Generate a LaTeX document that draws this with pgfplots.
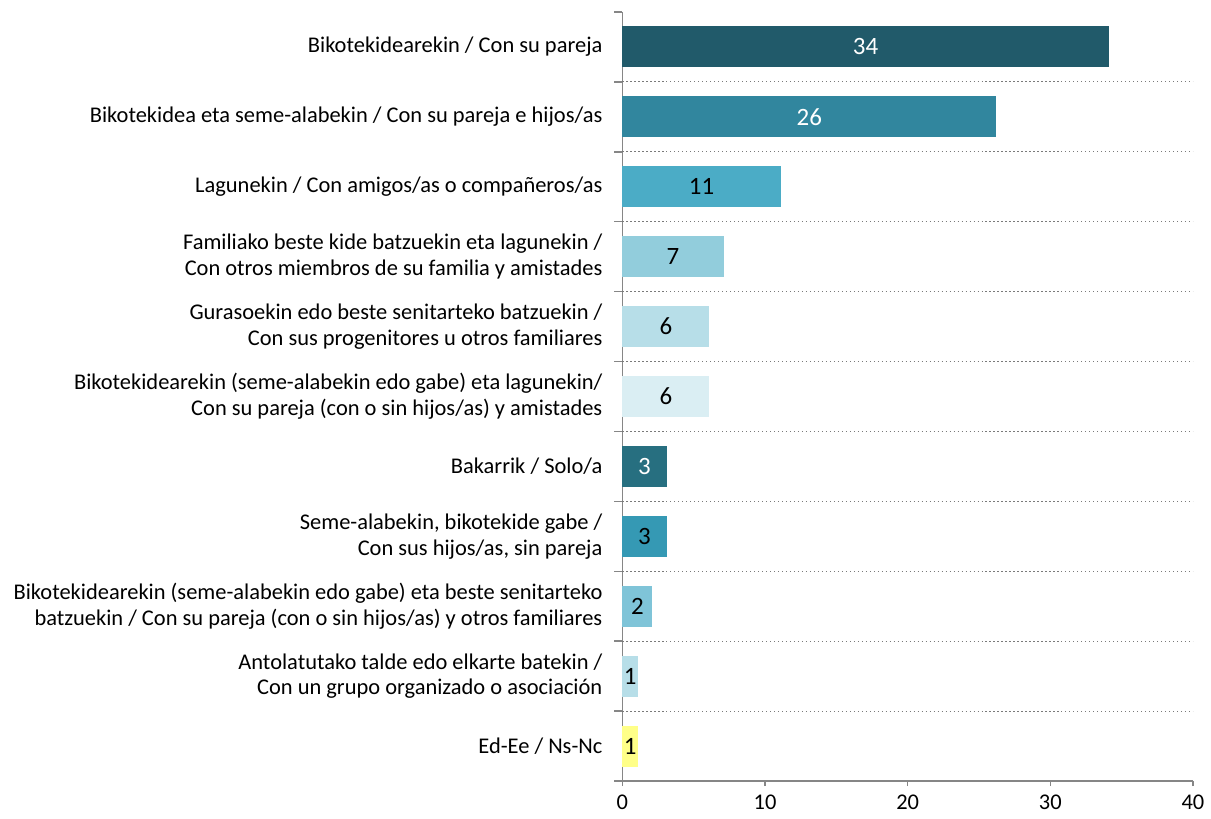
\documentclass[border=0pt]{standalone}
\usepackage{pgfplots}
\pgfplotsset{compat=1.18}
\usepackage{pgfplotstable}
\usepackage{fontspec}
\setmainfont{Carlito}
\definecolor{c1}{HTML}{215A6A}
\definecolor{c2}{HTML}{31869E}
\definecolor{c3}{HTML}{4BACC6}
\definecolor{c4}{HTML}{92CDDC}
\definecolor{c5}{HTML}{B7DEE8}
\definecolor{c6}{HTML}{DAEEF3}
\definecolor{c7}{HTML}{276F80}
\definecolor{c8}{HTML}{3599B4}
\definecolor{c9}{HTML}{7FC4D8}
\definecolor{c10}{HTML}{B7DEE8}
\definecolor{c11}{HTML}{FFFF88}
\definecolor{axisgray}{HTML}{868686}
\definecolor{gridgray}{HTML}{7A7A7A}
\pgfplotstableread{
y v lbl
0 34.1 34
1 26.2 26
6 3.1 3
}\whitelbl
\pgfplotstableread{
y v lbl
2 11.1 11
3 7.1 7
4 6.1 6
5 6.1 6
7 3.1 3
8 2.1 2
9 1.1 1
10 1.1 1
}\blacklbl
\begin{document}
\begin{tikzpicture}
\begin{axis}[
  scale only axis, width=286pt, height=385.5pt,
  xmin=0, xmax=40, ymin=-0.5, ymax=10.5, y dir=reverse,
  axis x line=bottom, axis y line=left,
  axis line style={draw=axisgray, line width=0.75pt, -},
  tick align=outside,
  tick style={draw=axisgray, line width=0.75pt},
  major tick length=2.5pt, minor tick length=4pt,
  xtick={0,10,20,30,40},
  ytick={0,...,10},
  every major y tick/.append style={draw=none},
  minor ytick={-0.5,0.5,...,10.5},
  extra y ticks={0.5,1.5,...,9.5},
  extra y tick labels={},
  extra y tick style={grid=major, major grid style={draw=gridgray, line width=0.6pt, dash pattern=on 0.6pt off 1.4pt}},
  /pgf/number format/assume math mode=true,
  tick label style={font=\fontsize{11.25}{13}\selectfont, text=black},
  xticklabel style={yshift=-1pt},
  yticklabel style={align=right, xshift=-4pt},
  yticklabels={
    {Bikotekidearekin / Con su pareja},
    {Bikotekidea eta seme-alabekin / Con su pareja e hijos/as},
    {Lagunekin / Con amigos/as o compañeros/as},
    {Familiako beste kide batzuekin eta lagunekin /\\Con otros miembros de su familia y amistades},
    {Gurasoekin edo beste senitarteko batzuekin /\\Con sus progenitores u otros familiares},
    {Bikotekidearekin (seme-alabekin edo gabe) eta lagunekin/\\Con su pareja (con o sin hijos/as) y amistades},
    {Bakarrik / Solo/a},
    {Seme-alabekin, bikotekide gabe /\\Con sus hijos/as, sin pareja},
    {Bikotekidearekin (seme-alabekin edo gabe) eta beste senitarteko\\batzuekin / Con su pareja (con o sin hijos/as) y otros familiares},
    {Antolatutako talde edo elkarte batekin /\\Con un grupo organizado o asociación},
    {Ed-Ee / Ns-Nc}
  },
  clip=false,
]
\pgfplotsset{mybar/.style={xbar, bar shift=0pt, bar width=0.585, draw=none, fill=#1}}
\addplot[mybar=c1] coordinates {(34.1,0)};
\addplot[mybar=c2] coordinates {(26.2,1)};
\addplot[mybar=c3] coordinates {(11.1,2)};
\addplot[mybar=c4] coordinates {(7.1,3)};
\addplot[mybar=c5] coordinates {(6.1,4)};
\addplot[mybar=c6] coordinates {(6.1,5)};
\addplot[mybar=c7] coordinates {(3.1,6)};
\addplot[mybar=c8] coordinates {(3.1,7)};
\addplot[mybar=c9] coordinates {(2.1,8)};
\addplot[mybar=c10] coordinates {(1.1,9)};
\addplot[mybar=c11] coordinates {(1.1,10)};
\addplot[draw=none, mark=none, nodes near coords, point meta=explicit symbolic,
  nodes near coords style={anchor=center, text=white, font=\fontsize{12.5}{14}\selectfont}]
  table[x expr=\thisrow{v}/2, y=y, meta=lbl] {\whitelbl};
\addplot[draw=none, mark=none, nodes near coords, point meta=explicit symbolic,
  nodes near coords style={anchor=center, text=black, font=\fontsize{12.5}{14}\selectfont}]
  table[x expr=\thisrow{v}/2, y=y, meta=lbl] {\blacklbl};
\end{axis}
\path (current axis.north west) ++(-312pt,6pt);
\path (current axis.south east) ++(7.5pt,-19pt);
\end{tikzpicture}
\end{document}
